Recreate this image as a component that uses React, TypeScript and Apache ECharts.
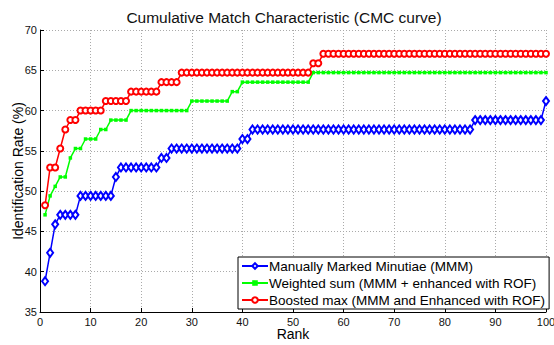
import React, { useEffect, useRef } from "react";
import * as echarts from "echarts";

const ranks: number[] = Array.from({ length: 100 }, (_, i) => i + 1);

const seriesNames = [
  "Manually Marked Minutiae (MMM)",
  "Weighted sum (MMM + enhanced with ROF)",
  "Boosted max (MMM and Enhanced with ROF)",
];

const mmm: number[] = [
  38.82, 42.35, 45.88, 47.06, 47.06, 47.06, 47.06, 49.41, 49.41, 49.41,
  49.41, 49.41, 49.41, 49.41, 51.76, 52.94, 52.94, 52.94, 52.94, 52.94,
  52.94, 52.94, 52.94, 54.12, 54.12, 55.29, 55.29, 55.29, 55.29, 55.29,
  55.29, 55.29, 55.29, 55.29, 55.29, 55.29, 55.29, 55.29, 55.29, 56.47,
  56.47, 57.65, 57.65, 57.65, 57.65, 57.65, 57.65, 57.65, 57.65, 57.65,
  57.65, 57.65, 57.65, 57.65, 57.65, 57.65, 57.65, 57.65, 57.65, 57.65,
  57.65, 57.65, 57.65, 57.65, 57.65, 57.65, 57.65, 57.65, 57.65, 57.65,
  57.65, 57.65, 57.65, 57.65, 57.65, 57.65, 57.65, 57.65, 57.65, 57.65,
  57.65, 57.65, 57.65, 57.65, 57.65, 58.82, 58.82, 58.82, 58.82, 58.82,
  58.82, 58.82, 58.82, 58.82, 58.82, 58.82, 58.82, 58.82, 58.82, 61.18,
];

const weighted: number[] = [
  47.06, 49.41, 50.59, 51.76, 51.76, 54.12, 55.29, 55.29, 56.47, 56.47,
  56.47, 57.65, 57.65, 58.82, 58.82, 58.82, 58.82, 60.0, 60.0, 60.0,
  60.0, 60.0, 60.0, 60.0, 60.0, 60.0, 60.0, 60.0, 60.0, 61.18,
  61.18, 61.18, 61.18, 61.18, 61.18, 61.18, 61.18, 62.35, 62.35, 63.53,
  63.53, 63.53, 63.53, 63.53, 63.53, 63.53, 63.53, 63.53, 63.53, 63.53,
  63.53, 63.53, 63.53, 64.71, 64.71, 64.71, 64.71, 64.71, 64.71, 64.71,
  64.71, 64.71, 64.71, 64.71, 64.71, 64.71, 64.71, 64.71, 64.71, 64.71,
  64.71, 64.71, 64.71, 64.71, 64.71, 64.71, 64.71, 64.71, 64.71, 64.71,
  64.71, 64.71, 64.71, 64.71, 64.71, 64.71, 64.71, 64.71, 64.71, 64.71,
  64.71, 64.71, 64.71, 64.71, 64.71, 64.71, 64.71, 64.71, 64.71, 64.71,
];

const boosted: number[] = [
  48.24, 52.94, 52.94, 55.29, 57.65, 58.82, 58.82, 60.0, 60.0, 60.0,
  60.0, 60.0, 61.18, 61.18, 61.18, 61.18, 61.18, 62.35, 62.35, 62.35,
  62.35, 62.35, 62.35, 63.53, 63.53, 63.53, 63.53, 64.71, 64.71, 64.71,
  64.71, 64.71, 64.71, 64.71, 64.71, 64.71, 64.71, 64.71, 64.71, 64.71,
  64.71, 64.71, 64.71, 64.71, 64.71, 64.71, 64.71, 64.71, 64.71, 64.71,
  64.71, 64.71, 64.71, 65.88, 65.88, 67.06, 67.06, 67.06, 67.06, 67.06,
  67.06, 67.06, 67.06, 67.06, 67.06, 67.06, 67.06, 67.06, 67.06, 67.06,
  67.06, 67.06, 67.06, 67.06, 67.06, 67.06, 67.06, 67.06, 67.06, 67.06,
  67.06, 67.06, 67.06, 67.06, 67.06, 67.06, 67.06, 67.06, 67.06, 67.06,
  67.06, 67.06, 67.06, 67.06, 67.06, 67.06, 67.06, 67.06, 67.06, 67.06,
];

const FONT = "Liberation Sans, Arial, Helvetica, sans-serif";

export default function App() {
  const ref = useRef<HTMLDivElement>(null);
  useEffect(() => {
    if (!ref.current) return;
    const chart = echarts.init(ref.current, undefined, { renderer: "svg" });
    const mk = (vals: number[]) => vals.map((v, i) => [ranks[i], v]);
    const lineCommon = {
      type: "line",
      showSymbol: true,
      lineStyle: { width: 1.5 },
      emphasis: { disabled: true },
    };
    chart.setOption({
      animation: false,
      backgroundColor: "#fff",
      textStyle: { fontFamily: FONT },
      title: {
        text: "Cumulative Match Characteristic (CMC curve)",
        left: 279,
        textAlign: "center",
        top: 4,
        textStyle: { fontSize: 15.5, fontWeight: "normal", color: "#111", fontFamily: FONT },
      },
      grid: {
        left: 40,
        right: 8,
        top: 30,
        bottom: 33,
        containLabel: false,
        outerBoundsMode: "none",
      },
      legend: {
        orient: "vertical",
        left: 238,
        top: 257,
        width: 300,
        padding: [1, 4, 1, 3],
        itemGap: 1,
        itemWidth: 26,
        itemHeight: 7,
        backgroundColor: "#fff",
        borderColor: "#000",
        borderWidth: 1,
        borderRadius: 0,
        textStyle: {
          fontSize: 13.5,
          lineHeight: 16,
          color: "#000",
          fontFamily: FONT,
          padding: [0, 0, 0, -4],
        },
        data: seriesNames,
      },
      xAxis: {
        type: "value",
        min: 0,
        max: 100,
        interval: 10,
        name: "Rank",
        nameLocation: "middle",
        nameGap: 15,
        nameMoveOverlap: false,
        nameTextStyle: { fontSize: 14, lineHeight: 14, color: "#000", fontFamily: FONT },
        axisLine: { show: true, lineStyle: { color: "#000", width: 1 } },
        axisTick: { show: true, inside: true, length: 4, lineStyle: { color: "#000" } },
        axisLabel: { fontSize: 11, lineHeight: 11, color: "#111", margin: 4, fontFamily: FONT },
        splitLine: { show: true, lineStyle: { color: "#aaa", type: [1, 2], width: 1 } },
      },
      yAxis: {
        type: "value",
        min: 35,
        max: 70,
        interval: 5,
        name: "Identification Rate (%)",
        nameLocation: "middle",
        nameGap: 15,
        nameMoveOverlap: false,
        nameTextStyle: { fontSize: 14, lineHeight: 14, color: "#000", fontFamily: FONT },
        axisLine: { show: true, lineStyle: { color: "#000", width: 1 } },
        axisTick: { show: true, inside: true, length: 4, lineStyle: { color: "#000" } },
        axisLabel: { fontSize: 11, color: "#111", margin: 3, fontFamily: FONT },
        splitLine: { show: true, lineStyle: { color: "#aaa", type: [1, 2], width: 1 } },
      },
      series: [
        {
          ...lineCommon,
          name: seriesNames[0],
          data: mk(mmm),
          symbol: "emptyDiamond",
          symbolSize: [6, 8],
          color: "#0000ff",
          itemStyle: { color: "#0000ff", borderWidth: 1.3 },
          z: 3,
        },
        {
          ...lineCommon,
          name: seriesNames[1],
          data: mk(weighted),
          symbol: "rect",
          symbolSize: 3.5,
          color: "#00ff00",
          itemStyle: { color: "#00ff00" },
          z: 4,
        },
        {
          ...lineCommon,
          name: seriesNames[2],
          data: mk(boosted),
          symbol: "emptyCircle",
          symbolSize: 6,
          color: "#ff0000",
          itemStyle: { color: "#ff0000", borderWidth: 1.3 },
          z: 5,
        },
      ],
    });
    return () => chart.dispose();
  }, []);
  return (
    <div
      ref={ref}
      style={{ position: "fixed", left: 0, top: 0, width: 554, height: 345 }}
    />
  );
}
